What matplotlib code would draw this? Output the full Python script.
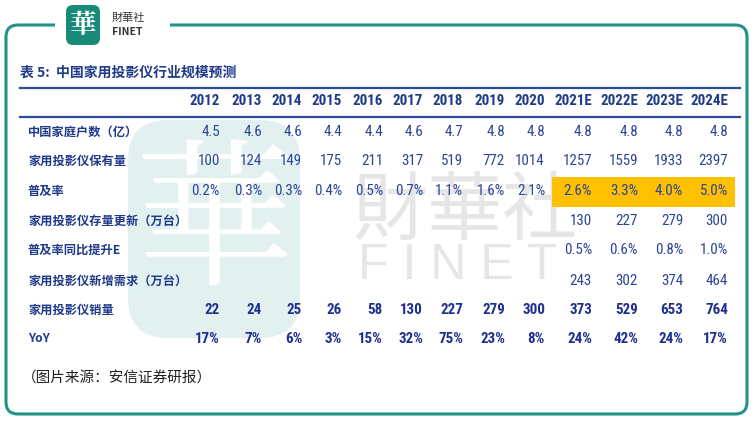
import matplotlib
matplotlib.use("Agg")
import matplotlib.pyplot as plt
from matplotlib.patches import FancyBboxPatch, Rectangle

plt.rcParams['font.family'] = ['Noto Sans CJK SC', 'DejaVu Sans']

# table data
years = ['2012', '2013', '2014', '2015', '2016', '2017', '2018', '2019', '2020',
         '2021E', '2022E', '2023E', '2024E']
row_labels = ['中国家庭户数（亿）', '家用投影仪保有量', '普及率', '家用投影仪存量更新（万台）',
              '普及率同比提升E', '家用投影仪新增需求（万台）', '家用投影仪销量', 'YoY']
households = [4.5, 4.6, 4.6, 4.4, 4.4, 4.6, 4.7, 4.8, 4.8, 4.8, 4.8, 4.8, 4.8]
ownership = [100, 124, 149, 175, 211, 317, 519, 772, 1014, 1257, 1559, 1933, 2397]
penetration = [0.2, 0.3, 0.3, 0.4, 0.5, 0.7, 1.1, 1.6, 2.1, 2.6, 3.3, 4.0, 5.0]
replacement = [None] * 9 + [130, 227, 279, 300]
pen_increase = [None] * 9 + [0.5, 0.6, 0.8, 1.0]
new_demand = [None] * 9 + [243, 302, 374, 464]
sales = [22, 24, 25, 26, 58, 130, 227, 279, 300, 373, 529, 653, 764]
yoy = [17, 7, 6, 3, 15, 32, 75, 23, 8, 24, 42, 24, 17]

def fmt(vals, pattern):
    return ['' if v is None else pattern.format(v) for v in vals]

rows = [fmt(households, '{:.1f}'), fmt(ownership, '{}'), fmt(penetration, '{:.1f}%'),
        fmt(replacement, '{}'), fmt(pen_increase, '{:.1f}%'), fmt(new_demand, '{}'),
        fmt(sales, '{}'), fmt(yoy, '{}%')]
bold_rows = [False, False, False, False, False, False, True, True]

W, H = 756, 424
fig = plt.figure(figsize=(W / 100, H / 100), dpi=100)
ax = fig.add_axes([0, 0, 1, 1])
ax.set_xlim(0, W)
ax.set_ylim(H, 0)
ax.axis('off')

teal = '#1f9486'
navy = '#1f3a8a'
num_font = ['Roboto Condensed', 'Liberation Sans']

# frame with a gap for the logo
ax.add_patch(FancyBboxPatch((6, 25), 741, 389, boxstyle='round,pad=0,rounding_size=12',
                            fill=False, ec=teal, lw=2.2, zorder=1))
ax.add_patch(Rectangle((55, 18), 115, 14, fc='white', ec='none', zorder=2))

# logo
ax.add_patch(FancyBboxPatch((66, 5), 34, 40, boxstyle='round,pad=0,rounding_size=7',
                            fc='#1a8a78', ec='none', zorder=3))
ax.text(83, 25, '華', color='white', fontsize=19, ha='center', va='center',
        family=['Noto Serif CJK SC', 'Noto Sans CJK SC'], weight='bold', zorder=4)
ax.text(112, 18, '財華社', color='#333333', fontsize=8, va='center', zorder=4)
ax.text(112, 32, 'FINET', color='#333333', fontsize=7.5, weight='bold', va='center', zorder=4)

# watermark
ax.add_patch(FancyBboxPatch((128, 120), 172, 218, boxstyle='round,pad=0,rounding_size=40',
                            fc='#e2f1f0', ec='none', zorder=0))
ax.text(214, 230, '華', color='white', fontsize=115, ha='center', va='center',
        family=['Noto Serif CJK SC', 'Noto Sans CJK SC'], zorder=0)
ax.text(465, 212, '財華社', color='#e6e6e6', fontsize=54, ha='center', va='center', zorder=0)
ax.text(458, 266, 'F I N E T', color='#e6e6e6', fontsize=36, ha='center', va='center',
        family=['Liberation Sans'], zorder=0)

# title and rules
ax.text(20, 73, '表 5:  中国家用投影仪行业规模预测', color=navy, fontsize=10, weight='bold',
        va='center', zorder=5)
ax.plot([20, 740], [88, 88], color='#2a4a9a', lw=1.6, zorder=5)
ax.plot([20, 740], [117, 117], color='#2a4a9a', lw=1.6, zorder=5)

col_x = [220, 262, 302, 342, 383, 423, 463, 505, 545, 592, 638, 683, 728]
row_y = [132, 161, 191, 221, 250, 281, 310, 339]

# highlight of forecast penetration
ax.add_patch(Rectangle((552, 177), 183, 30, fc='#ffc000', ec='none', zorder=3))

for x, yr in zip(col_x, years):
    ax.text(x, 101, yr, color=navy, fontsize=10.8, weight='bold', ha='right', va='center',
            family=num_font, zorder=5)

for i, (label, y) in enumerate(zip(row_labels, row_y)):
    ax.text(28, y, label, color=navy, fontsize=8.8, weight='bold', va='center', zorder=5)
    for x, s in zip(col_x, rows[i]):
        if s:
            ax.text(x, y, s, color='#1f2f8f' if bold_rows[i] else '#2c4596',
                    fontsize=10.8, weight='bold' if bold_rows[i] else 'normal',
                    ha='right', va='center', family=num_font, zorder=5)

ax.text(22, 379, '（图片来源：安信证券研报）', color='#222222', fontsize=10.5, va='center', zorder=5)

fig.savefig('out.png', dpi=100)
